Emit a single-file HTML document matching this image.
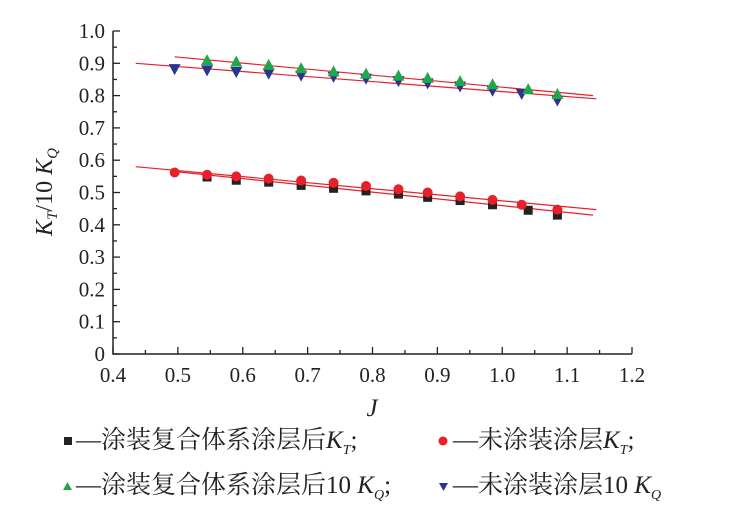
<!DOCTYPE html><html><head><meta charset="utf-8"><style>
body{margin:0;background:#fff}
text{font-family:"Liberation Serif","Noto Serif CJK SC","Noto Sans CJK SC",serif;fill:#222}
</style></head><body>
<svg width="729" height="525" viewBox="0 0 729 525" xmlns="http://www.w3.org/2000/svg">
<g id="ax" stroke="#222" stroke-width="1.5" fill="none">
<path d="M113,31 V354 H632"/>
</g>
<g id="ticks"></g>
<g id="plot"></g>
<text x="0" y="0" font-size="24" transform="translate(52,192) rotate(-90)" text-anchor="middle"><tspan font-style="italic">K</tspan><tspan font-size="15" dy="5" font-style="italic">T</tspan><tspan dy="-5">/10 </tspan><tspan font-style="italic">K</tspan><tspan font-size="15" dy="5" font-style="italic">Q</tspan></text>
<text x="372" y="416" font-size="25" font-style="italic" text-anchor="middle">J</text>
<g font-size="25">
<rect x="64" y="437" width="8" height="8" fill="#222"/>
<text x="76" y="448">—涂装复合体系涂层后<tspan font-style="italic">K</tspan><tspan font-size="14" dy="6" font-style="italic">T</tspan><tspan dy="-6">;</tspan></text>
<circle cx="443" cy="441" r="4.5" fill="#e8202a"/>
<text x="453" y="448">—未涂装涂层<tspan font-style="italic">K</tspan><tspan font-size="14" dy="6" font-style="italic">T</tspan><tspan dy="-6">;</tspan></text>
<path d="M63,490 L67.5,482 L72,490Z" fill="#1ea84a"/>
<text x="76" y="493">—涂装复合体系涂层后10 <tspan font-style="italic">K</tspan><tspan font-size="14" dy="6" font-style="italic">Q</tspan><tspan dy="-6">;</tspan></text>
<path d="M439,483 L448,483 L443.5,491Z" fill="#2a3590"/>
<text x="453" y="493">—未涂装涂层10 <tspan font-style="italic">K</tspan><tspan font-size="14" dy="6" font-style="italic">Q</tspan></text>
</g>
</svg>
<script>
const X=j=>113+(j-0.4)*648.75, Y=v=>354-v*323;
const NS="http://www.w3.org/2000/svg";
function el(p,t,a,txt){const e=document.createElementNS(NS,t);for(const k in a)e.setAttribute(k,a[k]);if(txt!==undefined)e.textContent=txt;p.appendChild(e);return e;}
const tk=document.getElementById('ticks'), svg=document.querySelector('svg');
for(let i=0;i<=20;i++){const y=Y(i*0.05);el(tk,'line',{x1:113,x2:113+(i%2?4:7),y1:y,y2:y,stroke:'#222','stroke-width':1.3});
 if(i%2==0){el(svg,'text',{x:105,y:y+7,'font-size':21,'text-anchor':'end'},i==0?'0':(i/20).toFixed(1));}}
for(let i=0;i<=16;i++){const x=X(0.4+i*0.05);el(tk,'line',{x1:x,x2:x,y1:354,y2:354-(i%2?4:7),stroke:'#222','stroke-width':1.3});
 if(i%2==0){el(svg,'text',{x:x,y:382,'font-size':21,'text-anchor':'middle'},(0.4+i*0.05).toFixed(1));}}
const pl=document.getElementById('plot');
const lines=[[0.495,0.92,1.14,0.80],[0.435,0.90,1.145,0.79],[0.435,0.58,1.145,0.447],[0.495,0.565,1.14,0.43]];
lines.forEach(l=>el(pl,'line',{x1:X(l[0]),y1:Y(l[1]),x2:X(l[2]),y2:Y(l[3]),stroke:'#e8202a','stroke-width':1.2}));
const J12=[0.545,0.59,0.64,0.69,0.74,0.79,0.84,0.885,0.935,0.985,1.04,1.085];
const J13=[0.495,0.545,0.59,0.64,0.69,0.74,0.79,0.84,0.885,0.935,0.985,1.03,1.085];
const sq=[.548,.538,.532,.522,.513,.505,.495,.485,.475,.462,.445,.43];
const gr=[.91,.905,.895,.885,.875,.868,.862,.855,.845,.835,.82,.805];
const bl=[.882,.878,.873,.868,.862,.858,.852,.845,.838,.828,.815,.805,.785];
const rd=[.562,.555,.55,.543,.537,.53,.52,.51,.5,.488,.477,.462,.447];
sq.forEach((v,i)=>{const x=X(J12[i]),y=Y(v);el(pl,'rect',{x:x-4.5,y:y-4.5,width:9,height:9,fill:'#222'});});
rd.forEach((v,i)=>{el(pl,'circle',{cx:X(J13[i]),cy:Y(v),r:5,fill:'#e8202a'});});
bl.forEach((v,i)=>{const x=X(J13[i]),y=Y(v);el(pl,'path',{d:`M${x-6},${y-5} L${x+6},${y-5} L${x},${y+6}Z`,fill:'#2a3590'});});
gr.forEach((v,i)=>{const x=X(J12[i]),y=Y(v);el(pl,'path',{d:`M${x-6},${y+5} L${x+6},${y+5} L${x},${y-6}Z`,fill:'#1ea84a'});});
</script>
</body></html>
